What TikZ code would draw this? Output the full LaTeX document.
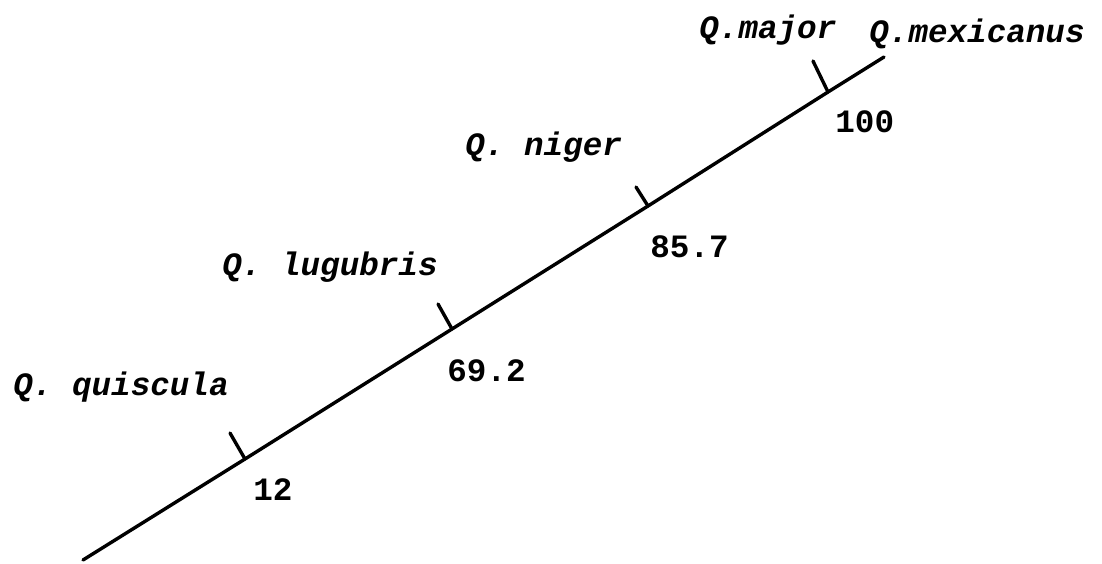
\documentclass[tikz,border=0pt]{standalone}
\usepackage{fontspec}
\usepackage{tikz}
\newfontfamily\monofont{Liberation Mono}
\tikzset{
  branch/.style={line width=1.7pt, line cap=round, line join=round},
  taxon/.style={anchor=base west, inner sep=0pt, font=\monofont\bfseries\itshape\fontsize{16.3}{18}\selectfont},
  support/.style={anchor=base west, inner sep=0pt, font=\monofont\bfseries\fontsize{16.3}{18}\selectfont}
}

\begin{document}
\begin{tikzpicture}[x=0.5pt,y=-0.5pt]
  \useasboundingbox (0,0) rectangle (1102,563);
  % main axis of the tree
  \coordinate (root) at (83,560);
  \coordinate (tip) at (884,57);
  \coordinate (b1) at (245,459);
  \coordinate (b2) at (452,329);
  \coordinate (b3) at (648,206);
  \coordinate (b4) at (828,92);
  \coordinate (t1) at (230,433);
  \coordinate (t2) at (438,304);
  \coordinate (t3) at (636,187);
  \coordinate (t4) at (813,61);
  \draw[branch] (root) -- (b1) -- (b2) -- (b3) -- (b4) -- (tip);
  \draw[branch] (b1) -- (t1);
  \draw[branch] (b2) -- (t2);
  \draw[branch] (b3) -- (t3);
  \draw[branch] (b4) -- (t4);
  % taxa
  \node[taxon] (quiscula) at (13,395) {Q. quiscula};
  \node[taxon] (lugubris) at (222,275) {Q. lugubris};
  \node[taxon] (niger) at (465,155) {Q. niger};
  \node[taxon] (major) at (699,38) {Q.major};
  \node[taxon] (mexicanus) at (869,42) {Q.mexicanus};
  % support values
  \node[support] (v12) at (253,500) {12};
  \node[support] (v69) at (447,381) {69.2};
  \node[support] (v85) at (650,257) {85.7};
  \node[support] (v100) at (835,132) {100};
\end{tikzpicture}
\end{document}
